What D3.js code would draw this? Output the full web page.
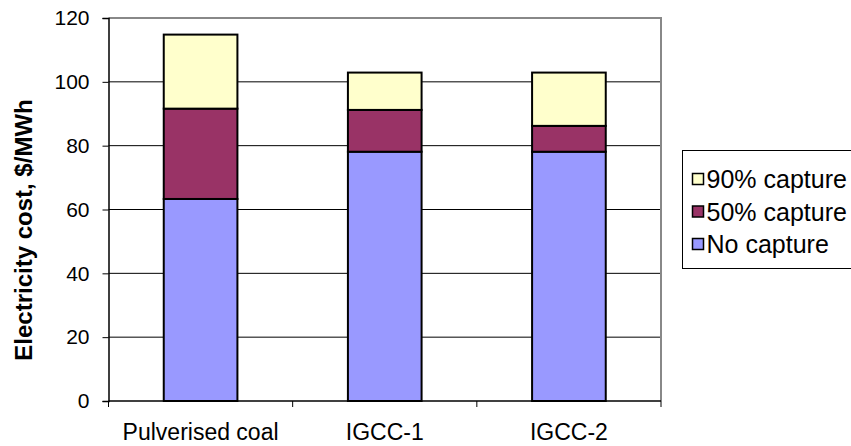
<!DOCTYPE html>
<html>
<head>
<meta charset="utf-8">
<script src="https://cdn.jsdelivr.net/npm/d3@7"></script>
<style>
  html, body { margin: 0; padding: 0; background: #fff; overflow: hidden; }
  svg { display: block; font-family: "Liberation Sans", Arial, sans-serif; }
</style>
</head>
<body>
<svg id="chart" width="851" height="446"></svg>
<script>
// Electricity cost by plant type, stacked by capture level ($/MWh)
const categories = ["Pulverised coal", "IGCC-1", "IGCC-2"];
const seriesNames = ["No capture", "50% capture", "90% capture"];
const noCapture = [63.3, 78.1, 78.1];
const capture50 = [28.3, 13.1, 8.1];
const capture90 = [23.2, 11.7, 16.7];
const yTicks = [0, 20, 40, 60, 80, 100, 120];
const colors = ["#9999FF", "#993366", "#FFFFCC"];

const svg = d3.select("#chart");
const plot = { left: 108.5, right: 661, top: 18, bottom: 401 };

const rows = categories.map((c, i) => ({
  cat: c,
  "No capture": noCapture[i],
  "50% capture": capture50[i],
  "90% capture": capture90[i]
}));
const stacked = d3.stack().keys(seriesNames)(rows);

const x = d3.scaleBand().domain(categories)
  .range([plot.left, plot.right]).paddingInner(0.6).paddingOuter(0.3);
const y = d3.scaleLinear().domain([0, 120]).range([plot.bottom, plot.top]);

// gridlines
svg.append("g").selectAll("line").data(yTicks.filter(t => t > 0 && t < 120)).join("line")
  .attr("x1", plot.left).attr("x2", plot.right)
  .attr("y1", d => y(d)).attr("y2", d => y(d))
  .attr("stroke", "#000").attr("stroke-width", 1);

// plot border (top and right)
svg.append("path")
  .attr("d", `M${plot.left},${plot.top}H${plot.right}V${plot.bottom}`)
  .attr("fill", "none").attr("stroke", "#888").attr("stroke-width", 2);

// bars
svg.append("g").selectAll("g").data(stacked).join("g")
  .attr("fill", (d, i) => colors[i])
  .selectAll("rect").data(d => d).join("rect")
  .attr("x", d => x(d.data.cat))
  .attr("width", x.bandwidth())
  .attr("y", d => y(d[1]))
  .attr("height", d => y(d[0]) - y(d[1]))
  .attr("stroke", "#000").attr("stroke-width", 2);

// y axis
const yAxis = svg.append("g").attr("transform", `translate(${plot.left},0)`)
  .call(d3.axisLeft(y).tickValues(yTicks).tickSize(6).tickPadding(13));
yAxis.select(".domain").attr("stroke", "#000").attr("stroke-width", 1.5);
yAxis.selectAll(".tick line").attr("stroke", "#000");
yAxis.selectAll("text").attr("font-size", 21).attr("fill", "#000")
  .attr("font-family", "Liberation Sans, Arial, sans-serif");

// x axis with category boundary ticks
const xAxis = svg.append("g").attr("transform", `translate(0,${plot.bottom})`);
xAxis.append("line").attr("x1", plot.left).attr("x2", plot.right)
  .attr("stroke", "#000").attr("stroke-width", 1.5);
const bounds = [plot.left, ...categories.slice(1).map(c => x(c) - x.step() * x.paddingInner() / 2), plot.right];
xAxis.selectAll("line.tk").data(bounds).join("line").attr("class", "tk")
  .attr("x1", d => d).attr("x2", d => d).attr("y1", 0).attr("y2", 6)
  .attr("stroke", "#000");
xAxis.selectAll("text").data(categories).join("text")
  .attr("x", d => x(d) + x.bandwidth() / 2).attr("y", 39)
  .attr("text-anchor", "middle").attr("font-size", 23).attr("fill", "#000")
  .text(d => d);

// y axis title
svg.append("text")
  .attr("transform", "translate(32,230) rotate(-90)")
  .attr("text-anchor", "middle").attr("font-size", 24).attr("font-weight", "bold")
  .text("Electricity cost, $/MWh");

// legend
const legend = svg.append("g").attr("transform", "translate(682.5,150.5)");
legend.append("rect").attr("x", 0).attr("y", 0).attr("width", 200).attr("height", 118)
  .attr("fill", "#fff").attr("stroke", "#000").attr("stroke-width", 1);
const legendOrder = seriesNames.slice().reverse();
const item = legend.selectAll("g.item").data(legendOrder).join("g").attr("class", "item")
  .attr("transform", (d, i) => `translate(10,${28.5 + i * 32.5})`);
item.append("rect").attr("x", 0).attr("y", -5.5).attr("width", 11).attr("height", 11)
  .attr("fill", d => colors[seriesNames.indexOf(d)]).attr("stroke", "#000").attr("stroke-width", 1.5);
item.append("text").attr("x", 14).attr("y", 9)
  .attr("font-size", 25).attr("fill", "#000").text(d => d);
</script>
</body>
</html>
